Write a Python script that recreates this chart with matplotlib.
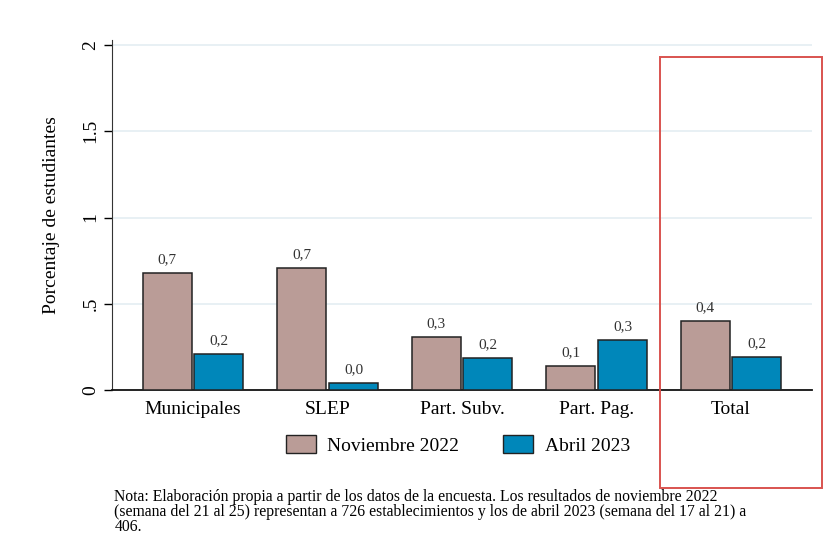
import numpy as np
import matplotlib
matplotlib.use("Agg")
import matplotlib.pyplot as plt
from matplotlib.patches import Rectangle, Patch

plt.rcParams['font.family'] = ['Liberation Serif', 'DejaVu Serif']

# datos
categorias = ["Municipales", "SLEP", "Part. Subv.", "Part. Pag.", "Total"]
nov_2022 = [0.68, 0.707, 0.305, 0.137, 0.40]
abr_2023 = [0.207, 0.042, 0.184, 0.29, 0.191]
etiq_nov = ["0,7", "0,7", "0,3", "0,1", "0,4"]
etiq_abr = ["0,2", "0,0", "0,2", "0,3", "0,2"]
yticks = [0, 0.5, 1, 1.5, 2]
ytick_labels = ["0", ".5", "1", "1.5", "2"]

col_nov = "#ba9c97"
col_abr = "#0087ba"

fig = plt.figure(figsize=(8.23, 5.54), dpi=100)
ax = fig.add_axes([0.1361, 0.296, 0.8505, 0.632])

x = np.arange(len(categorias))
w = 0.364
off = 0.193
ax.bar(x - off, nov_2022, w, color=col_nov, edgecolor="#222222", linewidth=1.1,
       label="Noviembre 2022", zorder=3)
ax.bar(x + off, abr_2023, w, color=col_abr, edgecolor="#222222", linewidth=1.1,
       label="Abril 2023", zorder=3)

for xi, v, t in zip(x - off, nov_2022, etiq_nov):
    ax.annotate(t, (xi, v), xytext=(0, 5), textcoords="offset points",
                ha="center", va="bottom", fontsize=11, color="#333333")
for xi, v, t in zip(x + off, abr_2023, etiq_abr):
    ax.annotate(t, (xi, v), xytext=(0, 5), textcoords="offset points",
                ha="center", va="bottom", fontsize=11, color="#333333")

ax.set_xlim(-0.602, 4.602)
ax.set_ylim(0, 2.03)
ax.set_yticks(yticks)
ax.set_yticklabels(ytick_labels, rotation=90, va="center", fontsize=14)
ax.set_xticks(x)
ax.set_xticklabels(categorias, fontsize=14)
ax.tick_params(axis="x", length=0, pad=8)
ax.tick_params(axis="y", length=6, width=1, pad=3)
ax.set_ylabel("Porcentaje de estudiantes", fontsize=14, labelpad=16)

for yv in yticks[1:]:
    ax.axhline(yv, color="#e4eef2", linewidth=1.2, zorder=1)

ax.spines["top"].set_visible(False)
ax.spines["right"].set_visible(False)
ax.spines["left"].set_color("#333333")
ax.spines["bottom"].set_color("#111111")
ax.spines["bottom"].set_linewidth(1.3)

handles = [Patch(facecolor=col_nov, edgecolor="#222222", label="Noviembre 2022"),
           Patch(facecolor=col_abr, edgecolor="#222222", label="Abril 2023")]
fig.legend(handles=handles, loc="center", bbox_to_anchor=(0.5565, 0.197), ncol=2,
           frameon=False, fontsize=14, handlelength=1.55, handleheight=1.0,
           columnspacing=2.26, handletextpad=0.57)

nota = ("Nota: Elaboración propia a partir de los datos de la encuesta. Los resultados de noviembre 2022\n"
        "(semana del 21 al 25) representan a 726 establecimientos y los de abril 2023 (semana del 17 al 21) a\n"
        "406.")
fig.text(0.139, 0.118, nota, fontsize=11.3, va="top", ha="left", linespacing=0.95)

# recuadro rojo
fig.patches.append(Rectangle((660 / 823, 1 - 488 / 554), 162 / 823, 431 / 554,
                             transform=fig.transFigure, fill=False,
                             edgecolor="#d9534f", linewidth=1.4, zorder=10))

fig.savefig("out.png", dpi=100, facecolor="white")
